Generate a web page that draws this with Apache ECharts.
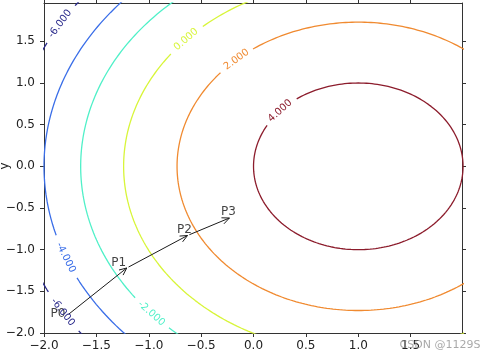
<!DOCTYPE html>
<html><head><meta charset="utf-8">
<script src="https://cdn.jsdelivr.net/npm/echarts@6/dist/echarts.min.js"></script>
<style>html,body{margin:0;padding:0;background:#fff}#c{width:492px;height:359px}</style>
</head><body><div id="c"></div>
<script>
// ---- data ----
const levels = [-6, -4, -2, 0, 2, 4];
const levelRadii = [3.32, 3.0, 2.65, 2.24, 1.73, 1.0];   // contour radii around the peak
const peakCenter = [1.0, 0.0];
const labelAngles = [[149, 211.8], [201.4], [221.8], [137.2], [132.2], [138.2]]; // where labels sit on each contour (deg)
const pointNames = ['P0', 'P1', 'P2', 'P3'];
const pointX = [-1.78, -1.21, -0.63, -0.23];
const pointY = [-1.79, -1.22, -0.83, -0.62];
const xTicks = [-2, -1.5, -1, -0.5, 0, 0.5, 1, 1.5];
const yTicks = [-2, -1.5, -1, -0.5, 0, 0.5, 1, 1.5];

// ---- styles ----
const levelColors = ['#2b2b8c', '#3a6ee8', '#50f0c8', '#d8f53a', '#f08a30', '#8c1c2c'];
const pointLabelOffsets = [[-9, -2], [-8, -5], [-3, -6], [-1, -6]];
const FONT = 'DejaVu Sans';
const fmt = v => (v < 0 ? '\u2212' : '') + Math.abs(v).toFixed(1);

const chart = echarts.init(document.getElementById('c'), null, {renderer: 'canvas'});

function xAx(pos, showLabel) {
  return {
    type: 'value', min: -2, max: 1.99, position: pos,
    axisLine: {show: true, onZero: false, lineStyle: {color: '#333', width: 1}},
    axisTick: {show: true, inside: false, length: 4, customValues: xTicks, lineStyle: {color: '#333'}},
    axisLabel: {show: showLabel, customValues: xTicks, formatter: fmt, margin: 7, color: '#222', fontFamily: FONT, fontSize: 12},
    splitLine: {show: false}
  };
}
function yAx(pos, showLabel) {
  return {
    type: 'value', min: -2, max: 1.96, position: pos,
    axisLine: {show: true, onZero: false, lineStyle: {color: '#333', width: 1}},
    axisTick: {show: true, inside: false, length: 4, customValues: yTicks, lineStyle: {color: '#333'}},
    axisLabel: {show: showLabel, customValues: yTicks, formatter: fmt, margin: 9, color: '#222', fontFamily: FONT, fontSize: 12},
    splitLine: {show: false}
  };
}

chart.setOption({
  animation: false,
  grid: {left: 44, right: 30, top: 3, bottom: 26, containLabel: false, outerBoundsMode: 'none'},
  xAxis: [xAx('bottom', true), xAx('top', false)],
  yAxis: [yAx('left', true), yAx('right', false)],
  series: []
});

const toPx = p => chart.convertToPixel({xAxisIndex: 0, yAxisIndex: 0}, p);

const series = [];
const graphics = [];
levels.forEach((lv, i) => {
  const r = levelRadii[i];
  const text = lv.toFixed(3);
  const halfGap = text.length * 3.1 + 4;
  const labs = labelAngles[i].map(a => {
    const t = a * Math.PI / 180;
    const p = toPx([peakCenter[0] + r * Math.cos(t), peakCenter[1] + r * Math.sin(t)]);
    const q = toPx([peakCenter[0] + r * Math.cos(t + 0.01), peakCenter[1] + r * Math.sin(t + 0.01)]);
    let ang = Math.atan2(-(q[1] - p[1]), q[0] - p[0]);
    if (ang > Math.PI / 2) ang -= Math.PI;
    if (ang < -Math.PI / 2) ang += Math.PI;
    graphics.push({
      type: 'text', x: p[0], y: p[1], rotation: ang, z: 10,
      style: {text: text, fill: levelColors[i], font: '10px "' + FONT + '"', align: 'center', verticalAlign: 'middle'}
    });
    return p;
  });
  const data = [];
  let gapOpen = false;
  for (let k = 0; k <= 720; k++) {
    const t = k / 720 * 2 * Math.PI;
    const pt = [peakCenter[0] + r * Math.cos(t), peakCenter[1] + r * Math.sin(t)];
    const px = toPx(pt);
    const inGap = labs.some(l => Math.hypot(px[0] - l[0], px[1] - l[1]) < halfGap);
    if (inGap) {
      if (!gapOpen) { data.push(['-', '-']); gapOpen = true; }
    } else {
      data.push(pt); gapOpen = false;
    }
  }
  series.push({
    type: 'line', data: data, showSymbol: false, silent: true, clip: true,
    connectNulls: false, xAxisIndex: 0, yAxisIndex: 0,
    lineStyle: {color: levelColors[i], width: 1.3}
  });
});

// arrows between successive points
const arrowData = [];
for (let k = 0; k < pointX.length - 1; k++) {
  arrowData.push([pointX[k], pointY[k], pointX[k + 1], pointY[k + 1]]);
}
series.push({
  type: 'custom', xAxisIndex: 0, yAxisIndex: 0, silent: true, z: 5,
  encode: {x: [0, 2], y: [1, 3]},
  data: arrowData,
  renderItem: function (params, api) {
    const a = api.coord([api.value(0), api.value(1)]);
    const b = api.coord([api.value(2), api.value(3)]);
    const dx = b[0] - a[0], dy = b[1] - a[1];
    const len = Math.hypot(dx, dy);
    const ux = dx / len, uy = dy / len;
    const s = [a[0] + ux * 2, a[1] + uy * 2];
    const hl = 8, ha = 0.42;
    const ca = Math.cos(ha), sa = Math.sin(ha);
    const h1 = [b[0] - hl * (ux * ca - uy * sa), b[1] - hl * (uy * ca + ux * sa)];
    const h2 = [b[0] - hl * (ux * ca + uy * sa), b[1] - hl * (uy * ca - ux * sa)];
    const st = {stroke: '#1a1a1a', lineWidth: 1, fill: null};
    return {type: 'group', children: [
      {type: 'line', shape: {x1: s[0], y1: s[1], x2: b[0], y2: b[1]}, style: st},
      {type: 'polyline', shape: {points: [h1, b, h2]}, style: st}
    ]};
  }
});

// point labels
series.push({
  type: 'scatter', xAxisIndex: 0, yAxisIndex: 0, symbolSize: 0, silent: true, z: 6,
  data: pointNames.map((n, k) => ({
    name: n, value: [pointX[k], pointY[k]],
    label: {offset: pointLabelOffsets[k]}
  })),
  label: {show: true, position: 'inside', formatter: '{b}', color: '#111', fontFamily: FONT, fontSize: 12}
});

// y axis title
graphics.push({
  type: 'text', x: 5, y: 166, rotation: Math.PI / 2, z: 20,
  style: {text: 'y', fill: '#222', font: '12px "' + FONT + '"', align: 'center', verticalAlign: 'middle'}
});

graphics.push({
  type: 'text', x: 440, y: 345, z: 20,
  style: {text: 'CSDN @1129S', fill: 'rgba(140,140,140,0.75)', font: '11px "' + FONT + '"', align: 'center', verticalAlign: 'middle'}
});

chart.setOption({series: series, graphic: graphics});
</script>
</body></html>
